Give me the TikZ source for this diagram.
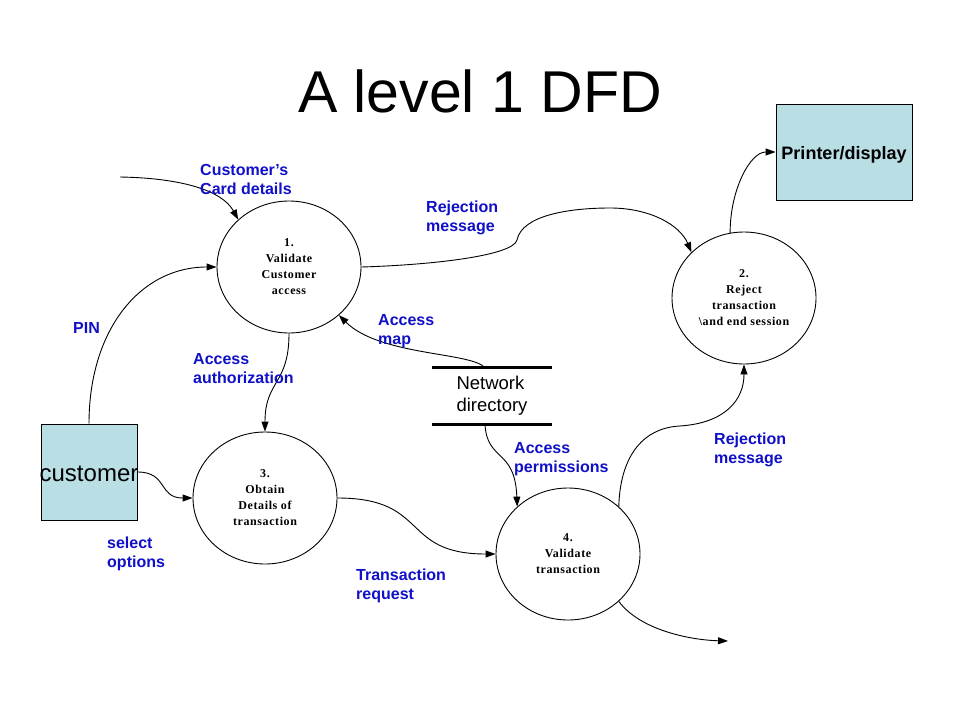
\documentclass[tikz,border=0pt]{standalone}
\usepackage{fontspec}
\setmainfont{Liberation Sans}
\newfontfamily\procfont[LetterSpace=5]{Liberation Serif}
\usetikzlibrary{shapes.geometric,arrows.meta}
\definecolor{boxfill}{RGB}{185,222,228}
\definecolor{lblue}{RGB}{16,16,200}
\begin{document}
\begin{tikzpicture}[x=1pt,y=-1pt,
  proc/.style={draw,line width=0.9pt,ellipse,minimum width=144pt,minimum height=132pt,inner sep=0pt,align=center,font=\procfont\bfseries\fontsize{12}{16}\selectfont},
  ext/.style={draw,line width=0.9pt,fill=boxfill,minimum width=96pt,minimum height=96pt,inner sep=0pt},
  lbl/.style={text=lblue,font=\bfseries\fontsize{16}{19}\selectfont,align=left,anchor=north west,inner sep=0pt},
  flow/.style={-{Triangle[length=10pt,width=7pt]},line width=0.9pt}]
\useasboundingbox (0,0) rectangle (960,720);
\fill[white] (0,0) rectangle (960,720);

\node[font=\fontsize{59}{59}\selectfont,anchor=base] (title) at (480,112) {A level 1 DFD};

% processes
\node[proc] (c1) at (289,267) {1.\\Validate\\Customer\\access};
\node[proc] (c2) at (744,298) {2.\\Reject\\transaction\\\textbackslash and end session};
\node[proc] (c3) at (265,498) {3.\\Obtain\\Details of\\transaction};
\node[proc] (c4) at (568,554) {4.\\Validate\\transaction};

% external entities
\node[ext] (cust) at (89,472) {};
\node[font=\fontsize{24}{24}\selectfont,anchor=base,inner sep=0pt] (custtxt) at (89,481) {customer};
\node[ext,minimum width=136pt] (printer) at (844,152) {};
\node[font=\bfseries\fontsize{18}{18}\selectfont,anchor=base,inner sep=0pt] (printertxt) at (844,159) {Printer/display};

% data store
\node[font=\fontsize{18.5}{22}\selectfont,align=left,inner sep=0pt,minimum width=120pt,minimum height=56pt] (netdir) at (492,396) {Network\\directory};
\draw[line width=3pt] (netdir.north west) -- (netdir.north east);
\draw[line width=3pt] (netdir.south west) -- (netdir.south east);

% free ends
\coordinate (cardsrc) at (120,177);
\coordinate (outend) at (728,641);

% flows
\draw[flow] (cardsrc) .. controls (180,178) and (222,190) .. (c1.137);
\draw[flow] (cust.north) .. controls (89,330) and (140,267) .. (c1.west);
\draw[flow] (c1.east) .. controls (430,265) and (513,256) .. (517,240) .. controls (522,215) and (570,208) .. (610,208) .. controls (650,208) and (680,225) .. (c2.139);
\draw[flow] (c2.102) .. controls (730,190) and (750,152) .. (printer.west);
\draw[flow] ([xshift=-7pt]netdir.north) .. controls (472,352) and (380,356) .. (c1.-44);
\draw[flow] (c1.south) .. controls (289,385) and (265,380) .. (c3.north);
\draw[flow] ([xshift=-7pt]netdir.south) .. controls (487,462) and (515,448) .. (c4.137);
\draw[flow] (cust.east) .. controls (168,472) and (158,498) .. (c3.west);
\draw[flow] (c3.east) .. controls (430,498) and (400,554) .. (c4.west);
\draw[flow] (c4.43) .. controls (620,460) and (640,428) .. (680,426) .. controls (725,423) and (744,400) .. (c2.south);
\draw[flow] (c4.-43) .. controls (640,630) and (690,640) .. (outend);

% labels
\node[lbl] (lcard) at (200,164) {Customer’s\\Card details};
\node[lbl] (lrej1) at (426,201) {Rejection\\message};
\node[lbl] (lpin) at (73,322) {PIN};
\node[lbl] (lmap) at (378,314) {Access\\map};
\node[lbl] (lauth) at (193,353) {Access\\authorization};
\node[lbl] (lperm) at (514,442) {Access\\permissions};
\node[lbl] (lrej2) at (714,433) {Rejection\\message};
\node[lbl] (lsel) at (107,537) {select\\options};
\node[lbl] (ltrans) at (356,569) {Transaction\\request};
\end{tikzpicture}
\end{document}
